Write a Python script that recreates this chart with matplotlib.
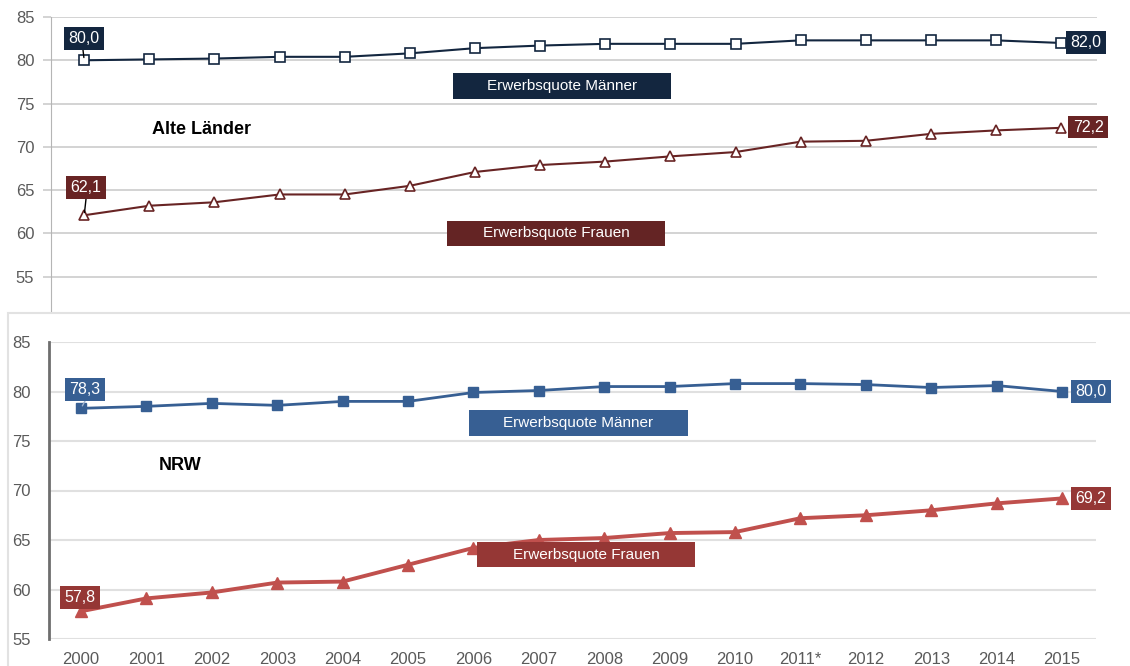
import matplotlib
matplotlib.use('Agg')
import matplotlib.pyplot as plt
from matplotlib.patches import Rectangle

years = list(range(2000, 2016))
year_labels = [str(y) for y in years]
year_labels[11] = '2011*'

# Alte Länder
alt_maenner = [80.0, 80.1, 80.2, 80.4, 80.4, 80.8, 81.4, 81.7, 81.9, 81.9, 81.9, 82.3, 82.3, 82.3, 82.3, 82.0]
alt_frauen = [62.1, 63.2, 63.6, 64.5, 64.5, 65.5, 67.1, 67.9, 68.3, 68.9, 69.4, 70.6, 70.7, 71.5, 71.9, 72.2]

# NRW
nrw_maenner = [78.3, 78.5, 78.8, 78.6, 79.0, 79.0, 79.9, 80.1, 80.5, 80.5, 80.8, 80.8, 80.7, 80.4, 80.6, 80.0]
nrw_frauen = [57.8, 59.1, 59.7, 60.7, 60.8, 62.5, 64.2, 65.0, 65.2, 65.7, 65.8, 67.2, 67.5, 68.0, 68.7, 69.2]

plt.rcParams['font.family'] = ['Liberation Sans', 'DejaVu Sans']

W, H = 1130, 666
fig = plt.figure(figsize=(W / 100, H / 100), dpi=100)

def fx(px):
    return px / W

def fy(py):
    return 1 - py / H

def box(x0, y0, x1, y1, color, text, size=11.5):
    # label box in image pixel coords
    fig.patches.append(Rectangle((fx(x0), fy(y1)), fx(x1) - fx(x0), fy(y0) - fy(y1),
                                 transform=fig.transFigure, facecolor=color,
                                 edgecolor='none', zorder=5))
    fig.text(fx((x0 + x1) / 2), fy((y0 + y1) / 2), text, color='white', fontsize=size,
             ha='center', va='center', zorder=6)

def leader(ax, x, y, px, py, color):
    ax.annotate('', xy=(x, y), xycoords='data', xytext=(px, H - py),
                textcoords='figure pixels',
                arrowprops=dict(arrowstyle='-', color=color, lw=1, shrinkA=0, shrinkB=2))

# ---- top chart: Alte Länder
ax1 = fig.add_axes([fx(51), fy(320), fx(1097) - fx(51), fy(17) - fy(320)], zorder=1)
c_m1 = '#13263f'
c_f1 = '#682424'
ax1.plot(years, alt_maenner, color=c_m1, lw=1.5, marker='s', ms=6.5,
         mfc='white', mec=c_m1, mew=1.2, zorder=3)
ax1.plot(years, alt_frauen, color=c_f1, lw=1.5, marker='^', ms=7,
         mfc='white', mec=c_f1, mew=1.2, zorder=3)
ax1.set_xlim(1999.49, 2015.55)
ax1.set_ylim(50, 85)
ax1.set_yticks([55, 60, 65, 70, 75, 80, 85])
ax1.set_xticks([])
ax1.grid(axis='y', color='#cccccc', lw=1.2)
ax1.set_axisbelow(True)
for s in ['top', 'right', 'bottom']:
    ax1.spines[s].set_visible(False)
ax1.spines['left'].set_color('#b5b5b5')
ax1.tick_params(axis='y', length=6, color='#cccccc', width=1.2, labelcolor='#5a5a5a',
                labelsize=12, pad=6)
ax1.text(fx(201), fy(129), 'Alte Länder', transform=fig.transFigure, fontsize=13,
         fontweight='bold', ha='center', va='center')
leader(ax1, years[0], alt_maenner[0], 83, 50, 'black')
leader(ax1, years[0], alt_frauen[0], 86, 199, 'black')

# white panel of the second chart, covering the lower part of the first one
fig.patches.append(Rectangle((fx(8), fy(700)), fx(1200), fy(313) - fy(700),
                             transform=fig.transFigure, facecolor='white',
                             edgecolor='#e2e2e2', lw=1.5, zorder=2))

# ---- bottom chart: NRW
ax2 = fig.add_axes([fx(49), fy(639), fx(1096) - fx(49), fy(342) - fy(639)], zorder=3)
ax2.patch.set_alpha(0)
c_m2 = '#375f93'
c_f2 = '#c0504d'
ax2.plot(years, nrw_maenner, color=c_m2, lw=2, marker='s', ms=7.5, zorder=3)
ax2.plot(years, nrw_frauen, color=c_f2, lw=2.8, marker='^', ms=8, zorder=3)
ax2.set_xlim(1999.51, 2015.52)
ax2.set_ylim(55, 85)
ax2.set_yticks([55, 60, 65, 70, 75, 80, 85])
ax2.set_xticks(years)
ax2.set_xticklabels(year_labels)
ax2.grid(axis='y', color='#e0e0e0', lw=1.5)
ax2.set_axisbelow(True)
for s in ['top', 'right', 'bottom']:
    ax2.spines[s].set_visible(False)
ax2.spines['left'].set_color('#6e6e6e')
ax2.spines['left'].set_linewidth(2)
ax2.tick_params(axis='both', length=0, labelcolor='#5a5a5a', labelsize=12)
ax2.tick_params(axis='y', pad=13)
ax2.tick_params(axis='x', pad=9)
ax2.text(fx(180), fy(465), 'NRW', transform=fig.transFigure, fontsize=13,
         fontweight='bold', ha='center', va='center')
leader(ax2, years[0], nrw_maenner[0], 85, 401, '#9fb4cf')

# value labels and series boxes
box(64, 27, 104, 50, c_m1, '80,0')
box(1066, 31, 1106, 54, c_m1, '82,0')
box(66, 176, 106, 199, c_f1, '62,1')
box(1068, 116, 1108, 138, c_f1, '72,2')
box(453, 73, 671, 99, c_m1, 'Erwerbsquote Männer', 11)
box(447, 221, 665, 246, '#642424', 'Erwerbsquote Frauen', 11)

box(65, 378, 105, 401, c_m2, '78,3')
box(1071, 380, 1111, 403, c_m2, '80,0')
box(60, 586, 100, 609, '#953735', '57,8')
box(1071, 487, 1111, 510, '#953735', '69,2')
box(469, 410, 688, 436, c_m2, 'Erwerbsquote Männer', 11)
box(477, 542, 695, 567, '#953735', 'Erwerbsquote Frauen', 11)

fig.savefig('out.png', dpi=100)
